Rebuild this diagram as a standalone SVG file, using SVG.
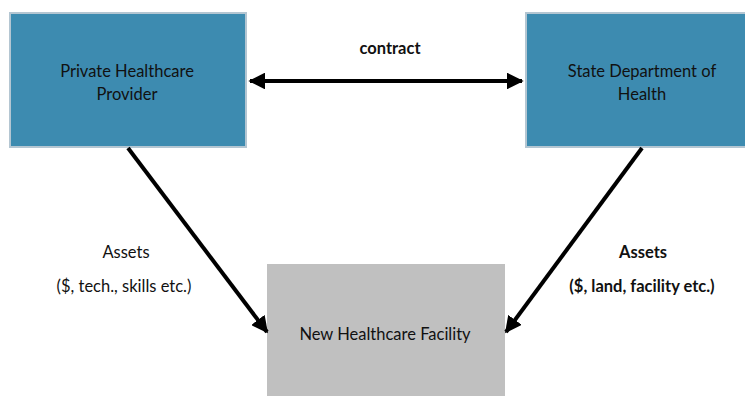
<svg xmlns="http://www.w3.org/2000/svg" width="745" height="396" viewBox="0 0 745 396">
  <defs>
    <marker id="head" viewBox="0 0 10 10" refX="9" refY="5" markerWidth="4.2" markerHeight="4.2" orient="auto-start-reverse" markerUnits="strokeWidth">
      <path d="M0,0 L10,5 L0,10 z" fill="#000"/>
    </marker>
    <style>
      .party { fill: #3D8BB0; stroke: #B4C6D2; stroke-width: 2; }
      .facility { fill: #C0C0C0; }
      .label { font-family: "Lato", "Open Sans", "Liberation Sans", sans-serif; font-size: 16.5px; fill: #111; text-anchor: middle; }
      .bold { font-weight: bold; }
      .link { stroke: #000; stroke-width: 4; fill: none; }
    </style>
  </defs>
  <rect width="745" height="396" fill="#fff"/>

  <g id="private-provider">
    <rect class="party" x="10" y="13" width="236" height="134"/>
    <text class="label" x="127" y="77">Private Healthcare</text>
    <text class="label" x="127" y="100">Provider</text>
  </g>

  <g id="state-health">
    <rect class="party" x="526" y="13" width="225" height="134"/>
    <text class="label" x="642" y="77">State Department of</text>
    <text class="label" x="642" y="100">Health</text>
  </g>

  <g id="new-facility">
    <rect class="facility" x="267" y="264" width="238" height="132"/>
    <text class="label" x="385" y="340">New Healthcare Facility</text>
  </g>

  <g id="connectors">
    <line class="link" x1="250" y1="81" x2="522" y2="81" marker-start="url(#head)" marker-end="url(#head)"/>
    <line class="link" x1="128" y1="148" x2="267" y2="332" marker-end="url(#head)"/>
    <line class="link" x1="642" y1="148" x2="506" y2="332" marker-end="url(#head)"/>
  </g>

  <g id="labels">
    <text class="label bold" x="390" y="54">contract</text>
    <text class="label" x="126" y="258">Assets</text>
    <text class="label" x="124" y="292">($, tech., skills etc.)</text>
    <text class="label bold" x="643" y="258">Assets</text>
    <text class="label bold" x="642" y="292">($, land, facility etc.)</text>
  </g>
</svg>
